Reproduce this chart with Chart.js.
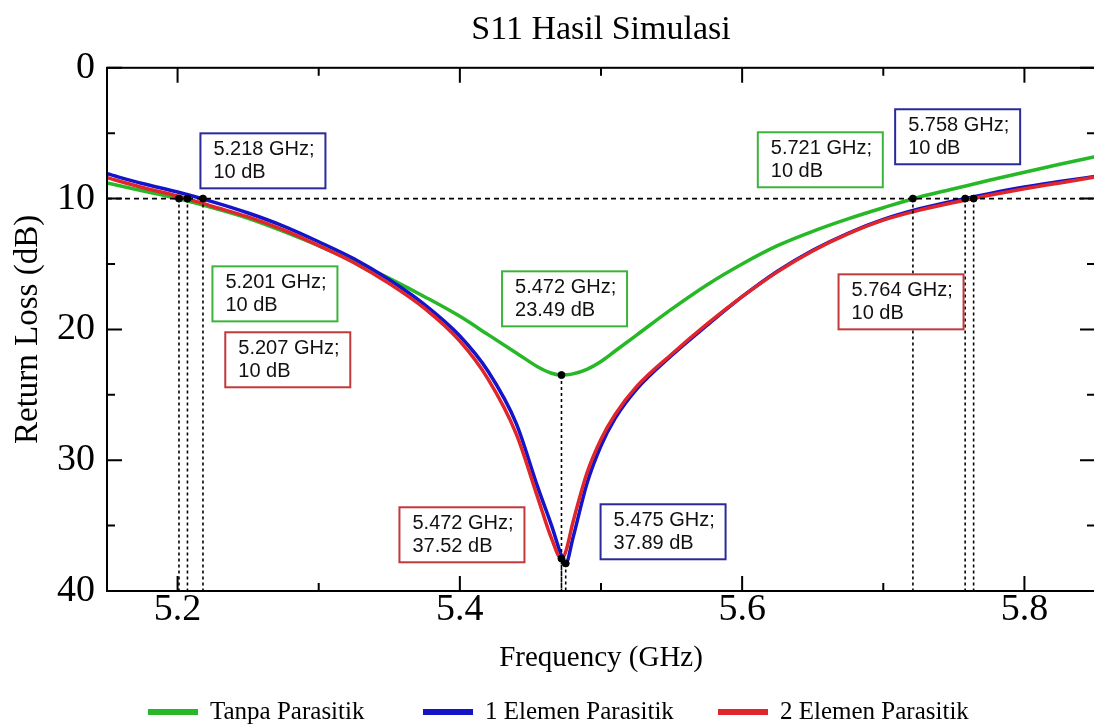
<!DOCTYPE html>
<html>
<head>
<meta charset="utf-8">
<script src="https://cdn.jsdelivr.net/npm/chart.js@4.4.1/dist/chart.umd.min.js"></script>
<style>
html, body { margin: 0; padding: 0; background: #fff; overflow: hidden; }
#wrap { width: 1094px; height: 727px; overflow: hidden; }
#box { width: 1100px; height: 727px; position: relative; }
</style>
</head>
<body>
<div id="wrap"><div id="box"><canvas id="graficoS11"></canvas></div></div>
<script>
// frequenze (GHz) e return loss (dB)
const frequenze = [5.15, 5.175, 5.20, 5.225, 5.25, 5.275, 5.30, 5.325, 5.35, 5.375, 5.40, 5.42, 5.44, 5.455, 5.465, 5.472, 5.475, 5.48, 5.49, 5.50, 5.51, 5.525, 5.55, 5.575, 5.60, 5.625, 5.65, 5.675, 5.70, 5.725, 5.75, 5.775, 5.80, 5.825, 5.85];
const tanpaParasitik = [8.8, 9.4, 10.0, 10.7, 11.5, 12.5, 13.6, 14.8, 16.1, 17.5, 19.0, 20.4, 21.8, 22.85, 23.35, 23.49, 23.47, 23.4, 23.05, 22.45, 21.65, 20.45, 18.45, 16.6, 15.0, 13.6, 12.5, 11.55, 10.7, 9.9, 9.25, 8.6, 7.98, 7.38, 6.8];
const satuElemen = [8.1, 8.85, 9.5, 10.25, 11.1, 12.1, 13.3, 14.6, 16.2, 18.1, 20.5, 23.2, 27.2, 32.0, 35.0, 37.3, 37.89, 36.0, 31.8, 28.9, 26.8, 24.6, 22.0, 19.7, 17.5, 15.55, 13.95, 12.65, 11.6, 10.8, 10.17, 9.62, 9.12, 8.7, 8.3];
const duaElemen = [8.4, 9.15, 9.8, 10.6, 11.4, 12.4, 13.6, 14.9, 16.5, 18.4, 20.9, 23.8, 28.0, 32.8, 36.0, 37.52, 37.0, 34.8, 31.0, 28.4, 26.5, 24.4, 21.9, 19.6, 17.5, 15.6, 14.0, 12.7, 11.65, 10.9, 10.3, 9.75, 9.25, 8.8, 8.35];

const etichette = ['Tanpa Parasitik', '1 Elemen Parasitik', '2 Elemen Parasitik'];
const colori = ['#27b827', '#1414c8', '#e0262a'];

// soglia 10 dB e punti segnati
const soglia = 10;
const freqSoglia = [5.201, 5.207, 5.218, 5.721, 5.758, 5.764];
const freqMinimo = [5.472, 5.472, 5.475];
const dbMinimo = [23.49, 37.52, 37.89];

// tick
const xMaggiori = [5.2, 5.4, 5.6, 5.8];
const xMinori = [5.3, 5.5, 5.7];
const yMaggiori = [0, 10, 20, 30, 40];
const yMinori = [5, 15, 25, 35];

// riquadri di testo
const noteTesto = [
    ['5.218 GHz;', '10 dB'], ['5.201 GHz;', '10 dB'], ['5.207 GHz;', '10 dB'],
    ['5.472 GHz;', '23.49 dB'], ['5.472 GHz;', '37.52 dB'], ['5.475 GHz;', '37.89 dB'],
    ['5.721 GHz;', '10 dB'], ['5.758 GHz;', '10 dB'], ['5.764 GHz;', '10 dB']
];
const noteColore = ['#2a2a9a', '#3cb43c', '#c0393b', '#3cb43c', '#c0393b', '#2a2a9a', '#3cb43c', '#2a2a9a', '#c0393b'];
// angolo in alto a sinistra (GHz, dB)
const notePos = [
    [5.2162, 5.01], [5.2247, 15.18], [5.2338, 20.22],
    [5.4299, 15.56], [5.3572, 33.6], [5.4997, 33.37],
    [5.6111, 4.93], [5.7084, 3.17], [5.6683, 15.79]
];
// legenda: x del campione di linea
const legendaX = [148, 423, 718];

const curve = [tanpaParasitik, satuElemen, duaElemen].map((serie, i) => ({
    label: etichette[i],
    data: frequenze.map((f, k) => ({ x: f, y: serie[k] })),
    borderColor: colori[i],
    backgroundColor: colori[i],
    borderWidth: 3.5,
    pointRadius: 0,
    cubicInterpolationMode: 'monotone',
    order: 4 - i
}));

let verticali = [];
freqSoglia.forEach(f => verticali.push({ x: f, y: soglia }, { x: f, y: 40 }, { x: f, y: null }));
freqMinimo.forEach((f, i) => verticali.push({ x: f, y: dbMinimo[i] }, { x: f, y: 40 }, { x: f, y: null }));

const punti = freqSoglia.map(f => ({ x: f, y: soglia }))
    .concat(freqMinimo.map((f, i) => ({ x: f, y: dbMinimo[i] })));

const cornice = {
    id: 'cornice',
    afterDatasetsDraw(chart) {
        const { ctx, chartArea: a, scales: { x, y } } = chart;
        ctx.save();
        ctx.strokeStyle = '#000';
        ctx.lineWidth = 2;
        ctx.strokeRect(a.left, a.top, a.right - a.left, a.bottom - a.top);
        ctx.beginPath();
        const tickX = (v, l) => {
            const p = x.getPixelForValue(v);
            ctx.moveTo(p, a.bottom); ctx.lineTo(p, a.bottom - l);
            ctx.moveTo(p, a.top); ctx.lineTo(p, a.top + l);
        };
        const tickY = (v, l) => {
            const p = y.getPixelForValue(v);
            ctx.moveTo(a.left, p); ctx.lineTo(a.left + l, p);
            ctx.moveTo(a.right, p); ctx.lineTo(a.right - l, p);
        };
        xMaggiori.forEach(v => tickX(v, 15));
        xMinori.forEach(v => tickX(v, 8));
        yMaggiori.forEach(v => tickY(v, 15));
        yMinori.forEach(v => tickY(v, 8));
        ctx.stroke();

        // riquadri
        ctx.font = '20px "Liberation Sans", Arial, sans-serif';
        ctx.textBaseline = 'middle';
        notePos.forEach((p, i) => {
            const px = x.getPixelForValue(p[0]);
            const py = y.getPixelForValue(p[1]);
            ctx.fillStyle = '#fff';
            ctx.fillRect(px, py, 125, 55);
            ctx.strokeStyle = noteColore[i];
            ctx.lineWidth = 2;
            ctx.strokeRect(px, py, 125, 55);
            ctx.fillStyle = '#111';
            ctx.fillText(noteTesto[i][0], px + 13, py + 16);
            ctx.fillText(noteTesto[i][1], px + 13, py + 39);
        });

        // legenda
        ctx.font = '25px "Liberation Serif", serif';
        ctx.lineWidth = 6;
        chart.data.datasets.slice(0, 3).forEach((d, i) => {
            const lx = legendaX[i];
            ctx.strokeStyle = d.borderColor;
            ctx.beginPath();
            ctx.moveTo(lx, 712);
            ctx.lineTo(lx + 50, 712);
            ctx.stroke();
            ctx.fillStyle = '#000';
            ctx.fillText(d.label, lx + 62, 712);
        });
        ctx.restore();
    }
};

const ctxS11 = document.getElementById('graficoS11').getContext('2d');
const graficoS11 = new Chart(ctxS11, {
    type: 'line',
    data: {
        datasets: curve.concat([
            {
                label: 'soglia',
                data: [{ x: 5.15, y: soglia }, { x: 5.85, y: soglia }],
                borderColor: '#000',
                borderWidth: 1.8,
                borderDash: [5, 4],
                pointRadius: 0,
                order: 1
            },
            {
                label: 'verticali',
                data: verticali,
                borderColor: '#000',
                borderWidth: 1.6,
                borderDash: [3, 3],
                pointRadius: 0,
                spanGaps: false,
                order: 1
            },
            {
                label: 'punti',
                data: punti,
                showLine: false,
                pointRadius: 3.5,
                pointBackgroundColor: '#000',
                pointBorderColor: '#000',
                order: 0
            }
        ])
    },
    options: {
        responsive: true,
        maintainAspectRatio: false,
        animation: false,
        layout: { padding: { left: 0, right: 0, top: 0, bottom: 36 } },
        scales: {
            x: {
                type: 'linear',
                min: 5.15,
                max: 5.85,
                grid: { display: false, drawTicks: false },
                border: { display: false },
                afterBuildTicks: scale => { scale.ticks = xMaggiori.map(v => ({ value: v })); },
                afterFit: scale => { scale.height = 100; },
                ticks: {
                    padding: 0,
                    color: '#000',
                    font: { family: 'Liberation Serif', size: 38, lineHeight: 1 },
                    callback: v => v.toFixed(1)
                },
                title: {
                    display: true,
                    text: 'Frequency (GHz)',
                    color: '#000',
                    font: { family: 'Liberation Serif', size: 29 },
                    padding: { top: 0, bottom: 15.6 }
                }
            },
            y: {
                type: 'linear',
                reverse: true,
                min: 0,
                max: 40,
                grid: { display: false, drawTicks: false },
                border: { display: false },
                afterBuildTicks: scale => { scale.ticks = yMaggiori.map(v => ({ value: v })); },
                afterFit: scale => { scale.width = 107; },
                ticks: {
                    padding: 12,
                    color: '#000',
                    font: { family: 'Liberation Serif', size: 38, lineHeight: 1 }
                },
                title: {
                    display: true,
                    text: 'Return Loss (dB)',
                    color: '#000',
                    font: { family: 'Liberation Serif', size: 33 },
                    padding: { top: 9, bottom: 0 }
                }
            }
        },
        plugins: {
            title: {
                display: true,
                fullSize: false,
                text: 'S11 Hasil Simulasi',
                color: '#000',
                font: { family: 'Liberation Serif', size: 34, weight: 'normal' },
                padding: { top: 10, bottom: 17 }
            },
            legend: { display: false },
            tooltip: { enabled: false }
        }
    },
    plugins: [cornice]
});
</script>
</body>
</html>
